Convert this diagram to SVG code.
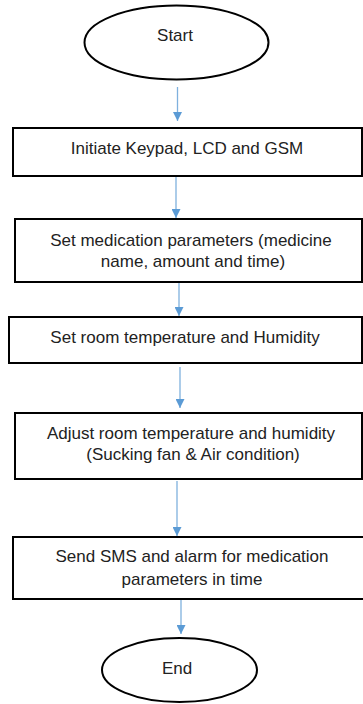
<svg xmlns="http://www.w3.org/2000/svg" width="363" height="704" viewBox="0 0 363 704">
<defs>
<marker id="ah" viewBox="0 0 10 10" refX="10" refY="5" markerWidth="9" markerHeight="9" markerUnits="userSpaceOnUse" orient="auto">
<path d="M0,0 L10,5 L0,10 Z" fill="#5B9BD5"/>
</marker>
<style>
.box{fill:#fff;stroke:#000;stroke-width:2}
.term{fill:#fff;stroke:#000;stroke-width:2}
.t{font-family:"Liberation Sans",Arial,sans-serif;font-size:17px;fill:#222;text-anchor:middle}
.c{stroke:#7FB1DE;stroke-width:1.3;fill:none;marker-end:url(#ah)}
</style>
</defs>
<rect width="363" height="704" fill="#fff"/>
<g id="connectors">
<path class="c" d="M177.5,87 V121"/>
<path class="c" d="M176,176 V218"/>
<path class="c" d="M179,282 V316"/>
<path class="c" d="M180,367 V408"/>
<path class="c" d="M177,481 V536"/>
<path class="c" d="M181,600 V634"/>
</g>
<g id="start">
<ellipse class="term" cx="176.5" cy="42.5" rx="92" ry="37"/>
<text class="t" x="175" y="41">Start</text>
</g>
<g id="init">
<rect class="box" x="13" y="128" width="349" height="48"/>
<text class="t" x="187" y="154">Initiate Keypad, LCD and GSM</text>
</g>
<g id="setmed">
<rect class="box" x="15" y="219" width="347" height="63"/>
<text class="t" x="191" y="246">Set medication parameters (medicine</text>
<text class="t" x="193" y="267">name, amount and time)</text>
</g>
<g id="setroom">
<rect class="box" x="9" y="317" width="353" height="46"/>
<text class="t" x="185" y="343">Set room temperature and Humidity</text>
</g>
<g id="adjust">
<rect class="box" x="15" y="413" width="347" height="66"/>
<text class="t" x="191" y="439">Adjust room temperature and humidity</text>
<text class="t" x="193" y="460">(Sucking fan &amp; Air condition)</text>
</g>
<g id="send">
<rect class="box" x="13" y="537" width="352" height="62"/>
<text class="t" x="192" y="562">Send SMS and alarm for medication</text>
<text class="t" x="192" y="585">parameters in time</text>
</g>
<g id="end">
<ellipse class="term" cx="179.5" cy="670" rx="77.5" ry="32"/>
<text class="t" x="177" y="674">End</text>
</g>
</svg>
